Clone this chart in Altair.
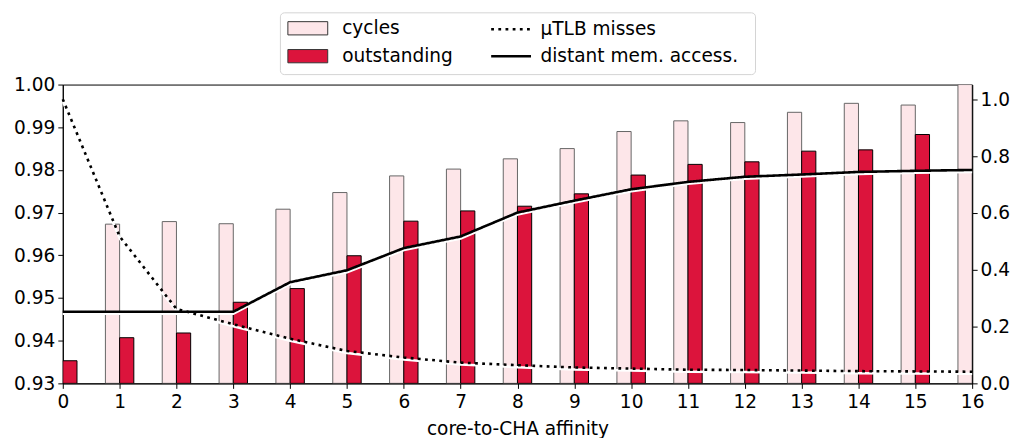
import altair as alt
import pandas as pd

# ---- data ----
cyc_x = list(range(1, 17))
cycles = [0.9673, 0.9679, 0.9674, 0.9708, 0.9747, 0.9786, 0.9802, 0.9826,
          0.9850, 0.9890, 0.9915, 0.9911, 0.9935, 0.9956, 0.9952, 1.0]
out_x = list(range(0, 16))
outstanding = [0.9353, 0.9407, 0.9418, 0.9490, 0.9522, 0.9599, 0.9680, 0.9704,
               0.9715, 0.9744, 0.9788, 0.9813, 0.9819, 0.9844, 0.9847, 0.9883]
line_x = list(range(0, 17))
tlb_misses = [1.0, 0.517, 0.262, 0.208, 0.157, 0.114, 0.091, 0.073, 0.064,
              0.056, 0.052, 0.048, 0.047, 0.045, 0.043, 0.042, 0.041]
distant = [0.252, 0.252, 0.252, 0.252, 0.356, 0.398, 0.476, 0.517, 0.601,
           0.643, 0.683, 0.709, 0.727, 0.735, 0.744, 0.748, 0.751]

bar_names = ["cycles", "outstanding"]
line_names = ["\u03bcTLB misses", "distant mem. access."]
x_ticks = list(range(0, 17))
left_ticks = [0.93, 0.94, 0.95, 0.96, 0.97, 0.98, 0.99, 1.00]
right_ticks = [0.0, 0.2, 0.4, 0.6, 0.8, 1.0]
baseline = 0.93

FONT = "DejaVu Sans"
FS = 18.6
PINK = "#fde6e9"
CRIMSON = "#dc143c"

cyc_df = pd.DataFrame({"x": cyc_x, "v": cycles, "series": bar_names[0]})
out_df = pd.DataFrame({"x": out_x, "v": outstanding, "series": bar_names[1]})
line_df = pd.concat([
    pd.DataFrame({"x": line_x, "v": tlb_misses, "series": line_names[0]}),
    pd.DataFrame({"x": line_x, "v": distant, "series": line_names[1]}),
])

xscale = alt.Scale(domain=[0, 16], nice=False, zero=False)
xaxis = alt.Axis(values=x_ticks, format="d", title="core-to-CHA affinity",
                 labelPadding=4, titlePadding=9, labelFlush=False)
lscale = alt.Scale(domain=[0.93, 1.0], nice=False, zero=False)
laxis = alt.Axis(values=left_ticks, format=".2f", orient="left", title=None,
                 labelFlush=False)
rscale = alt.Scale(domain=[0, 1.0515], nice=False, zero=True)
raxis = alt.Axis(values=right_ticks, format=".1f", orient="right", title=None,
                 labelFlush=False)

fill_enc = alt.Fill(
    "series:N",
    scale=alt.Scale(domain=bar_names, range=[PINK, CRIMSON]),
    legend=alt.Legend(
        orient="none", legendX=225.5, legendY=-67, title=None, padding=0,
        symbolType="M-1,-0.665L3,-0.665L3,0.665L-1,0.665Z", symbolSize=400,
        symbolStrokeColor="#333333", symbolStrokeWidth=1, symbolOpacity=1,
        labelOffset=34, rowPadding=7, labelLimit=400,
    ),
)

bar_cyc = alt.Chart(cyc_df).transform_calculate(
    xa="datum.x - 0.25"
).mark_bar(stroke="#666666", strokeWidth=1, clip=True, opacity=1).encode(
    x=alt.X("xa:Q", scale=xscale, axis=xaxis),
    x2="x:Q",
    y=alt.Y("v:Q", scale=lscale, axis=laxis),
    y2=alt.datum(baseline),
    fill=fill_enc,
)
bar_out = alt.Chart(out_df).transform_calculate(
    xb="datum.x + 0.25"
).mark_bar(stroke="black", strokeWidth=1, clip=True, opacity=1).encode(
    x=alt.X("x:Q", scale=xscale, axis=xaxis),
    x2="xb:Q",
    y=alt.Y("v:Q", scale=lscale, axis=laxis),
    y2=alt.datum(baseline),
    fill=fill_enc,
)

shadow = alt.Chart(line_df).mark_line(stroke="white", strokeWidth=2.5, yOffset=2).encode(
    x=alt.X("x:Q", scale=xscale, axis=xaxis),
    y=alt.Y("v:Q", scale=rscale, axis=raxis),
    detail="series:N",
)
lines = alt.Chart(line_df).mark_line(stroke="black", strokeWidth=2.6).encode(
    x=alt.X("x:Q", scale=xscale, axis=xaxis),
    y=alt.Y("v:Q", scale=rscale, axis=raxis),
    strokeDash=alt.StrokeDash(
        "series:N",
        scale=alt.Scale(domain=line_names, range=[[2.8, 4.4], [1, 0]]),
        legend=alt.Legend(
            orient="none", legendX=428.6, legendY=-67, title=None, padding=0,
            symbolType="M-1,0L3,0", symbolSize=400,
            symbolStrokeColor="black", symbolStrokeWidth=2.5,
            symbolFillColor="transparent",
            labelOffset=28, rowPadding=5, labelLimit=400,
        ),
    ),
)

frame = alt.Chart(alt.Data(values=[{}])).mark_rect(
    fill="white", stroke="#d4d4d4", strokeWidth=1, cornerRadius=4
).encode(
    x=alt.value(218.5), x2=alt.value(695.5), y=alt.value(-72), y2=alt.value(-10)
)

chart = alt.layer(
    alt.layer(bar_cyc, bar_out),
    alt.layer(shadow, lines),
    frame,
).resolve_scale(y="independent").properties(
    width=913, height=300,
    autosize=alt.AutoSizeParams(type="none"),
    padding={"left": 55, "top": 76, "right": 38, "bottom": 58},
).configure_view(
    stroke="black", strokeWidth=1
).configure_axis(
    grid=False, labelFont=FONT, labelFontSize=FS, labelColor="black",
    tickColor="black", tickSize=5, tickWidth=1, domainColor="black",
    domainWidth=1, titleFont=FONT, titleFontSize=FS, titleFontWeight="normal",
    titleColor="black", labelPadding=3,
).configure_legend(
    labelFont=FONT, labelFontSize=FS, labelColor="black",
)

chart.save("out.html", embed_options={"renderer": "svg", "actions": False})
